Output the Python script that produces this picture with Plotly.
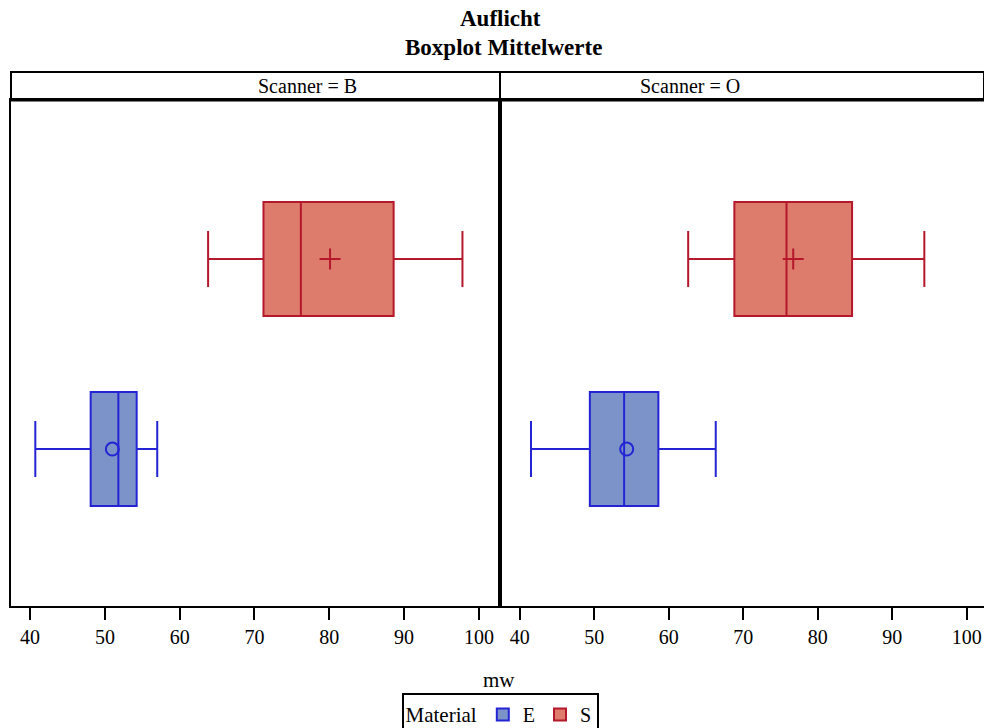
import plotly.graph_objects as go

# ---- data ----
scanners = ["B", "O"]
materials = ["E", "S"]
# per scanner: [E, S]
lowerfence = {"B": [40.7, 63.8], "O": [41.5, 62.6]}
q1 = {"B": [48.1, 71.2], "O": [49.4, 68.8]}
median = {"B": [51.8, 76.2], "O": [54.0, 75.8]}
q3 = {"B": [54.25, 88.6], "O": [58.6, 84.6]}
upperfence = {"B": [57.0, 97.8], "O": [66.3, 94.3]}
mean = {"B": [51.0, 80.1], "O": [54.35, 76.7]}
xticks = [40, 50, 60, 70, 80, 90, 100]

fill = {"E": "#7B93C9", "S": "#DD7B6C"}
line = {"E": "#2424D4", "S": "#B5172B"}
msym = {"E": "circle-open", "S": "cross-thin-open"}

FONT = "Liberation Serif"
W, H = 984, 728
ML, MR, MT, MB = 11, 0, 100, 122
PW = W - ML - MR
PH = H - MT - MB
split = (500 - ML) / PW

fig = go.Figure()
for si, sc in enumerate(scanners):
    xa = "x" if si == 0 else "x2"
    ya = "y" if si == 0 else "y2"
    for mi, m in enumerate(materials):
        fig.add_trace(go.Box(
            name=m, legendgroup=m, showlegend=(si == 0),
            orientation="h",
            y=[mi], q1=[q1[sc][mi]], median=[median[sc][mi]], q3=[q3[sc][mi]],
            lowerfence=[lowerfence[sc][mi]], upperfence=[upperfence[sc][mi]],
            width=0.6, whiskerwidth=0.49,
            fillcolor=fill[m], line=dict(color=line[m], width=2),
            boxpoints=False, hoverinfo="x",
            xaxis=xa, yaxis=ya,
        ))
        fig.add_trace(go.Scatter(
            x=[mean[sc][mi]], y=[mi], mode="markers", showlegend=False,
            marker=dict(symbol=msym[m], size=13 if m == "E" else 15,
                        color=line[m], line=dict(color=line[m], width=2)),
            xaxis=xa, yaxis=ya,
        ))

axis_common = dict(showgrid=False, zeroline=False, showline=True, linecolor="black",
                   linewidth=2, mirror=True)
tick_common = dict(tickvals=xticks, ticks="outside", ticklen=12, tickwidth=2,
                   tickcolor="black", tickfont=dict(size=20, family=FONT))
fig.update_layout(
    width=W, height=H,
    margin=dict(l=ML, r=MR, t=MT, b=MB, autoexpand=False),
    paper_bgcolor="white", plot_bgcolor="white",
    font=dict(family=FONT, color="black"),
    xaxis=dict(domain=[0, split], range=[37.45, 102.82], anchor="y",
               **tick_common, **axis_common),
    xaxis2=dict(domain=[split, 1], range=[37.34, 102.31], anchor="y2",
                **tick_common, **axis_common),
    yaxis=dict(domain=[0, 1], range=[-0.826, 1.837], showticklabels=False,
               ticks="", anchor="x", **axis_common),
    yaxis2=dict(domain=[0, 1], range=[-0.826, 1.837], showticklabels=False,
                ticks="", anchor="x2", **axis_common),
    legend=dict(orientation="h", x=(500 - ML) / PW, xanchor="center",
                y=-(693 - 606) / PH, yanchor="top",
                bordercolor="black", borderwidth=2,
                title=dict(text="Material", font=dict(size=21, family=FONT)),
                font=dict(size=20, family=FONT), itemwidth=30,
                tracegroupgap=0),
    showlegend=True,
)

strip_top = 1 + (100 - 72) / PH
fig.add_shape(type="rect", xref="paper", yref="paper", x0=0, x1=1, y0=1,
              y1=strip_top, line=dict(color="black", width=2))
fig.add_shape(type="line", xref="paper", yref="paper", x0=0, x1=1, y0=1, y1=1,
              line=dict(color="black", width=3))
fig.add_shape(type="line", xref="paper", yref="paper", x0=split, x1=split,
              y0=0, y1=strip_top, line=dict(color="black", width=2))

for si, sc in enumerate(scanners):
    xc = split / 2 if si == 0 else (split + 1) / 2
    fig.add_annotation(text=f"Scanner = {sc}", xref="paper", yref="paper",
                       x=xc, y=1 + (100 - 86) / PH, showarrow=False,
                       font=dict(size=20, family=FONT), yanchor="middle")

fig.add_annotation(text="<b>Auflicht</b>", xref="paper", yref="paper",
                   x=(500 - ML) / PW, y=1 + (100 - 18) / PH, showarrow=False,
                   font=dict(size=23, family=FONT), yanchor="middle")
fig.add_annotation(text="<b>Boxplot Mittelwerte</b>", xref="paper", yref="paper",
                   x=(503 - ML) / PW, y=1 + (100 - 48) / PH, showarrow=False,
                   font=dict(size=23, family=FONT), yanchor="middle")
fig.add_annotation(text="mw", xref="paper", yref="paper",
                   x=(499 - ML) / PW, y=-(680 - 606) / PH, showarrow=False,
                   font=dict(size=21, family=FONT), yanchor="middle")

fig.write_html("out.html")
